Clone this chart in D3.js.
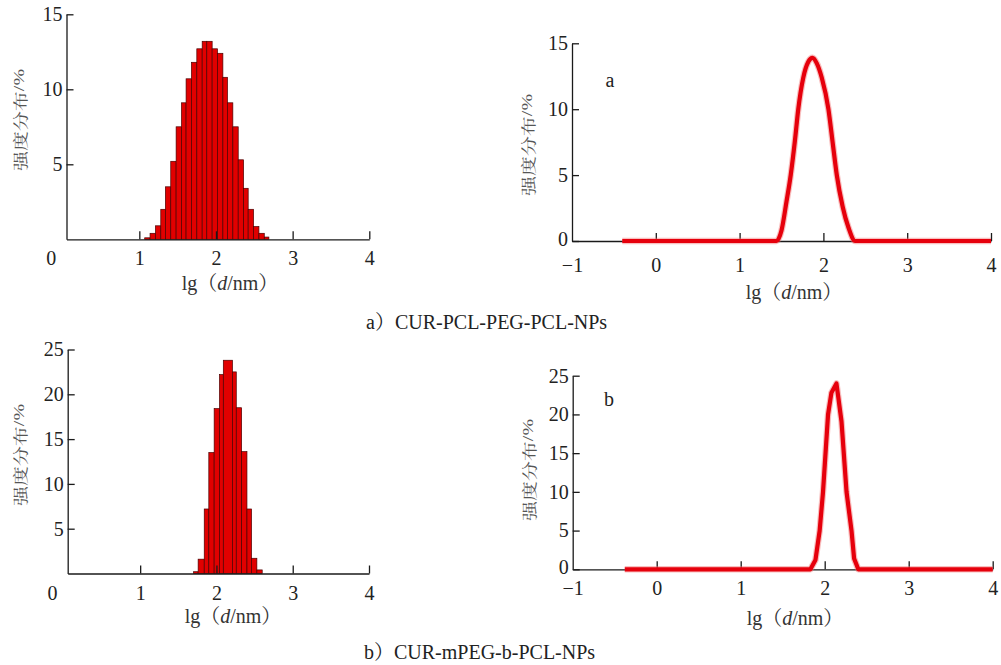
<!DOCTYPE html>
<html>
<head>
<meta charset="utf-8">
<script src="https://cdn.jsdelivr.net/npm/d3@7"></script>
</head>
<body style="margin:0;background:#fff">
<div id="chart"></div>
<script>
// histogram a (CUR-PCL-PEG-PCL-NPs)
const binEdgesA = [1.07, 1.14, 1.21, 1.28, 1.34, 1.41, 1.48, 1.55, 1.61, 1.68, 1.75, 1.82, 1.88,
  1.95, 2.02, 2.09, 2.15, 2.22, 2.29, 2.36, 2.42, 2.49, 2.56, 2.63, 2.69]
const binValsA = [0.1, 0.4, 0.9, 2.0, 3.5, 5.2, 7.5, 9.1, 10.7, 11.8, 12.7, 13.2, 13.2,
  12.7, 12.4, 10.8, 9.1, 7.5, 5.3, 3.4, 2.0, 0.85, 0.4, 0.15]

// histogram b (CUR-mPEG-b-PCL-NPs)
const binEdgesB = [1.70, 1.76, 1.84, 1.90, 1.97, 2.04, 2.09, 2.21, 2.26, 2.33, 2.40, 2.46, 2.53, 2.60]
const binValsB = [0.2, 1.6, 7.2, 13.5, 18.4, 22.2, 23.8, 22.5, 18.5, 13.6, 7.2, 1.7, 0.4]

// distribution curves
const lineXA = [-0.4, 1.0, 1.44, 1.5, 1.56, 1.61, 1.66, 1.70, 1.76, 1.82, 1.87, 1.92, 1.98, 2.06, 2.11, 2.16, 2.23, 2.30, 2.38, 3.0, 4.0]
const lineYA = [0, 0, 0, 0.8, 3, 5, 7.6, 10, 12.4, 13.6, 13.9, 13.5, 12.4, 10, 7.5, 5, 2.6, 1.0, 0, 0, 0]
const lineXB = [-0.38, 1.0, 1.83, 1.89, 1.94, 1.98, 2.04, 2.08, 2.14, 2.20, 2.26, 2.32, 2.35, 2.40, 3.0, 4.0]
const lineYB = [0, 0, 0, 1.2, 5, 10, 20, 22.8, 24, 19.1, 10, 4.9, 1.4, 0, 0, 0]

const ticksXLeft = [0, 1, 2, 3, 4]
const ticksXRight = [-1, 0, 1, 2, 3, 4]
const ticksY15 = [0, 5, 10, 15]
const ticksY25 = [0, 5, 10, 15, 20, 25]

const yLabel = '强度分布/%'
const captionA = 'a）CUR-PCL-PEG-PCL-NPs'
const captionB = 'b）CUR-mPEG-b-PCL-NPs'

const SERIF = "'Liberation Serif', 'Times New Roman', monospace"
const CJK = "'Noto Serif CJK SC', 'Noto Sans CJK SC', monospace"

var svg = d3.select('#chart').append('svg')
  .attr('width', 1001).attr('height', 665)

var axisColor = '#1a1a1a'

// panels: geometry only
var panels = [
  { kind: 'hist', edges: binEdgesA, vals: binValsA, xd: [0.05, 4], xr: [66.5, 369.3], yd: [0, 15], yr: [239.3, 14.3],
    yt: [5, 10, 15], xt: ticksXLeft, pad: 12, xl: [230, 290], yl: [19, 120] },
  { kind: 'line', xs: lineXA, ys: lineYA, curve: d3.curveMonotoneX, xd: [-1, 4], xr: [572, 991], yd: [0, 15], yr: [241, 43.3],
    yt: ticksY15, xt: ticksXRight, pad: 17, xl: [794, 299], yl: [527, 145], tag: 'a', tagPos: [610, 86.5] },
  { kind: 'hist', edges: binEdgesB, vals: binValsB, xd: [0.05, 4], xr: [67.7, 369], yd: [0, 25], yr: [573.5, 349.5],
    yt: [5, 10, 15, 20, 25], xt: ticksXLeft, pad: 12, xl: [233, 623], yl: [19, 455] },
  { kind: 'line', xs: lineXB, ys: lineYB, curve: d3.curveLinear, xd: [-1, 4], xr: [572.7, 992.7], yd: [0, 25], yr: [569.3, 375.7],
    yt: ticksY25, xt: ticksXRight, pad: 12, xl: [795, 625], yl: [528, 470], tag: 'b', tagPos: [609, 405.5] },
]

panels.forEach(p => drawPanel(p))

function drawPanel(p) {
  var x = d3.scaleLinear().domain(p.xd).range(p.xr)
  var y = d3.scaleLinear().domain(p.yd).range(p.yr)
  var g = svg.append('g')

  if (p.kind === 'hist') {
    var bins = p.vals.map((v, i) => ({ x0: p.edges[i], x1: p.edges[i + 1], v: v }))
    g.selectAll('rect.bar')
      .data(bins)
      .join('rect')
      .attr('class', 'bar')
      .attr('x', d => x(d.x0))
      .attr('width', d => x(d.x1) - x(d.x0))
      .attr('y', d => y(d.v))
      .attr('height', d => y(0) - y(d.v))
      .attr('fill', '#e10000')
      .attr('stroke', '#4a0000')
      .attr('stroke-width', 0.7)
  }

  // axes, ticks pointing inward
  var xAxis = d3.axisBottom(x).tickValues(p.xt).tickSize(-8).tickSizeOuter(0).tickPadding(p.pad)
    .tickFormat(d3.format('d'))
  var gx = g.append('g').attr('transform', `translate(0,${y(0)})`).call(xAxis)
  var yAxis = d3.axisLeft(y).tickValues(p.yt).tickSize(-7).tickSizeOuter(0).tickPadding(4)
  var gy = g.append('g').attr('transform', `translate(${x(p.xd[0])},0)`).call(yAxis)

  ;[gx, gy].forEach(a => {
    a.attr('font-family', null).attr('font-size', null)
    a.select('.domain').attr('stroke', axisColor).attr('stroke-width', 1.3)
    a.selectAll('.tick line').attr('stroke', axisColor).attr('stroke-width', 1.3)
    a.selectAll('.tick text').attr('fill', '#222').style('font-size', '20px')
      .style('font-family', SERIF)
  })
  // first x tick sits on the y axis: drop its line
  gx.selectAll('.tick').filter(d => d === p.xt[0]).select('line').remove()
  if (p.kind === 'hist') {
    gx.selectAll('.tick').filter(d => d === 0).select('text').attr('dx', -12)
  }
  // the y "0" label sits just above the corner
  gy.selectAll('.tick').filter(d => d === 0).select('text').attr('dy', '0.22em')

  if (p.kind === 'line') {
    var pts = p.xs.map((v, i) => [v, p.ys[i]])
    var line = d3.line().x(d => x(d[0])).y(d => y(d[1])).curve(p.curve)
    g.append('path').datum(pts)
      .attr('fill', 'none').attr('stroke', '#f07070').attr('stroke-opacity', 0.45)
      .attr('stroke-width', 6.5).attr('stroke-linejoin', 'round').attr('d', line)
    g.append('path').datum(pts)
      .attr('fill', 'none').attr('stroke', '#e6000c')
      .attr('stroke-width', 4.2).attr('stroke-linejoin', 'round').attr('d', line)
    g.append('text').attr('x', p.tagPos[0]).attr('y', p.tagPos[1])
      .attr('text-anchor', 'middle').style('font-family', SERIF).style('font-size', '20px')
      .attr('fill', '#222').text(p.tag)
  }

  // x label lg（d/nm）
  var xt = g.append('text').attr('x', p.xl[0]).attr('y', p.xl[1])
    .attr('text-anchor', 'middle').attr('fill', '#333')
    .style('font-family', SERIF).style('font-size', '20px')
  xt.append('tspan').text('lg')
  xt.append('tspan').style('font-family', CJK).text('（')
  xt.append('tspan').style('font-style', 'italic').text('d')
  xt.append('tspan').text('/nm')
  xt.append('tspan').style('font-family', CJK).text('）')

  // y label, glyphs squashed across the text as in the scan
  g.append('text')
    .attr('transform', `translate(${p.yl[0]},${p.yl[1]}) rotate(-90) scale(1,0.75)`)
    .attr('text-anchor', 'middle').attr('dominant-baseline', 'central')
    .attr('fill', '#555').style('font-family', SERIF).style('font-size', '20px')
    .call(t => {
      t.append('tspan').style('font-family', CJK).text(yLabel.slice(0, 4))
      t.append('tspan').text(yLabel.slice(4))
    })
}

// captions
function caption(txt, cx, cy) {
  svg.append('text').attr('x', cx).attr('y', cy)
    .style('font-family', SERIF).style('font-size', '20px').attr('fill', '#222')
    .call(t => {
      t.append('tspan').text(txt.slice(0, 1))
      t.append('tspan').style('font-family', CJK).text(txt.slice(1, 2))
      t.append('tspan').text(txt.slice(2))
    })
}
caption(captionA, 366, 329)
caption(captionB, 364, 659)
</script>
</body>
</html>
